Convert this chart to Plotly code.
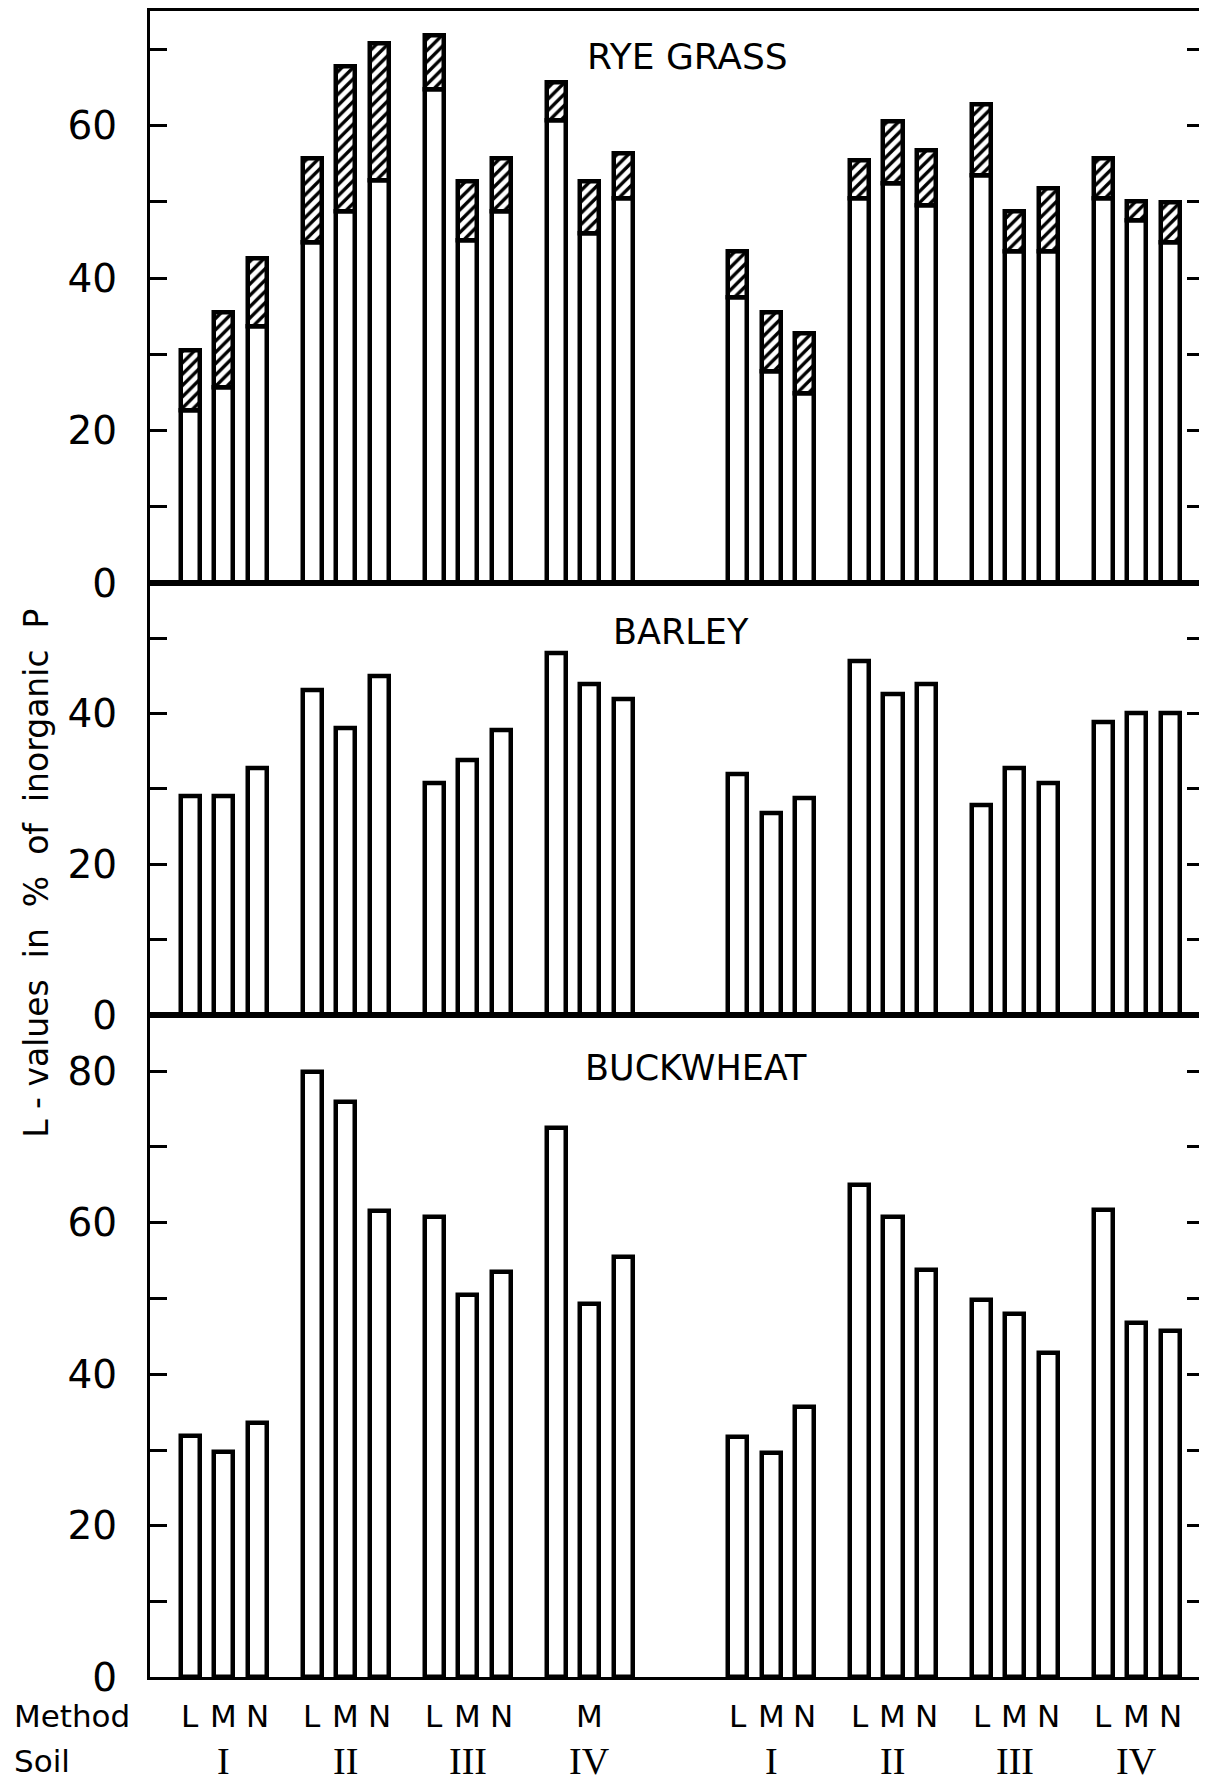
import plotly.graph_objects as go
from plotly.subplots import make_subplots

# ---------------- data ----------------
soils = ["I", "II", "III", "IV"]
methods = ["L", "M", "N"]
# method labels printed under the left half (soil IV only shows "M")
method_labels_left = [["L", "M", "N"], ["L", "M", "N"], ["L", "M", "N"], ["", "M", ""]]
method_labels_right = [["L", "M", "N"], ["L", "M", "N"], ["L", "M", "N"], ["L", "M", "N"]]

# RYE GRASS: lower (open) part and total height (hatched part = total - lower)
rye_left_lower = [22.6, 25.6, 33.7, 44.7, 48.8, 52.8, 64.7, 44.9, 48.7, 60.7, 45.9, 50.5]
rye_left_total = [30.5, 35.5, 42.6, 55.7, 67.7, 70.8, 71.8, 52.7, 55.7, 65.6, 52.7, 56.4]
rye_right_lower = [37.5, 27.7, 24.9, 50.4, 52.4, 49.5, 53.5, 43.5, 43.5, 50.4, 47.5, 44.7]
rye_right_total = [43.5, 35.5, 32.7, 55.4, 60.5, 56.7, 62.8, 48.8, 51.8, 55.7, 50.0, 49.9]
# BARLEY
barley_left = [29.1, 29.1, 32.7, 43.1, 38.1, 45.0, 30.8, 33.8, 37.8, 48.0, 43.9, 41.9]
barley_right = [31.9, 26.8, 28.8, 46.9, 42.6, 43.9, 27.9, 32.8, 30.8, 38.8, 40.1, 40.1]
# BUCKWHEAT
buck_left = [31.8, 29.7, 33.6, 79.9, 75.9, 61.5, 60.7, 50.5, 53.5, 72.5, 49.3, 55.5]
buck_right = [31.7, 29.6, 35.7, 64.9, 60.7, 53.8, 49.8, 47.9, 42.8, 61.7, 46.8, 45.7]

panel_titles = ["RYE GRASS", "BARLEY", "BUCKWHEAT"]
y_label = "L - values\u00a0 in\u00a0 %\u00a0 of\u00a0 inorganic\u00a0 P"

# ---------------- layout constants ----------------
OFF = 8                      # page body margin
VS = 1807 / 1785             # vertical compensation of the capture
W = 1207 - OFF
H = round(1785 * VS) - 2 * OFF
PLOT_L = 150                 # page x of left axis
ML = PLOT_L - OFF
GROUP_STEP = 3.65
HALF_STEP = 16.38
BAR_W = 0.57
UNIT_PX = 33.5
FIRST_BAR_PX = 190.6
X_RANGE = [(PLOT_L - FIRST_BAR_PX) / UNIT_PX, (OFF + W - FIRST_BAR_PX) / UNIT_PX]

def pos(half, s, m):
    return half * HALF_STEP + s * GROUP_STEP + m

x_left = [pos(0, s, m) for s in range(4) for m in range(3)]
x_right = [pos(1, s, m) for s in range(4) for m in range(3)]

def py(ref_y):
    return 1 - (ref_y * VS - OFF) / H

def px(page_x):
    return (page_x - OFF - ML) / (W - ML)

domains = [
    [py(583.5), py(10.5)],
    [py(1015.7), py(583.5)],
    [py(1678.4), py(1015.7)],
]
y_tops = [75.1, 57.3, 87.4]

fig = make_subplots(rows=3, cols=1, shared_xaxes=False, vertical_spacing=0)

open_marker = dict(color="white", line=dict(color="black", width=4.5))
hatch_marker = dict(color="white", line=dict(color="black", width=4.5),
                    pattern=dict(shape="/", fgcolor="black", bgcolor="white",
                                 size=8, solidity=0.42, fillmode="replace"))

# rye grass
for xs, lower, total in [(x_left, rye_left_lower, rye_left_total),
                         (x_right, rye_right_lower, rye_right_total)]:
    fig.add_trace(go.Bar(x=xs, y=lower, width=BAR_W, marker=open_marker,
                         showlegend=False, hoverinfo="skip"), row=1, col=1)
    fig.add_trace(go.Bar(x=xs, y=[t - l for t, l in zip(total, lower)], base=lower,
                         width=BAR_W, marker=hatch_marker,
                         showlegend=False, hoverinfo="skip"), row=1, col=1)
# barley
for xs, vals in [(x_left, barley_left), (x_right, barley_right)]:
    fig.add_trace(go.Bar(x=xs, y=vals, width=BAR_W, marker=open_marker,
                         showlegend=False, hoverinfo="skip"), row=2, col=1)
# buckwheat
for xs, vals in [(x_left, buck_left), (x_right, buck_right)]:
    fig.add_trace(go.Bar(x=xs, y=vals, width=BAR_W, marker=open_marker,
                         showlegend=False, hoverinfo="skip"), row=3, col=1)

FONT = "DejaVu Sans"
for i in range(3):
    top = y_tops[i]
    tv = list(range(0, int(top) + 1, 10))
    tt = [str(v) if v % 20 == 0 else "" for v in tv]
    yname = "yaxis" if i == 0 else f"yaxis{i+1}"
    xname = "xaxis" if i == 0 else f"xaxis{i+1}"
    fig.layout[yname].update(
        domain=domains[i], range=[0, top], tickvals=tv, ticktext=tt,
        ticks="inside", ticklen=17, tickwidth=3, tickcolor="black",
        showline=True, linewidth=3, linecolor="black", mirror="ticks",
        showgrid=False, zeroline=False, ticklabelstandoff=22,
        tickfont=dict(family=FONT, size=39, color="black"))
    fig.layout[xname].update(
        range=X_RANGE, showline=True, linewidth=3, linecolor="black", mirror=True,
        ticks="", showticklabels=False, showgrid=False, zeroline=False)

annotations = []
title_pos = [(605 * 1.1387, 56), (599 * 1.1387, 632), (613 * 1.1387, 1069)]
title_sizes = [36, 35, 35]
for t, (tx, ty), fs in zip(panel_titles, title_pos, title_sizes):
    annotations.append(dict(text=t, x=px(tx), y=py(ty),
                            xref="paper", yref="paper", showarrow=False,
                            xanchor="center", yanchor="middle",
                            font=dict(family=FONT, size=fs, color="black")))

annotations.append(dict(text=y_label, x=px(36), y=py(874),
                        xref="paper", yref="paper", showarrow=False, textangle=-90,
                        xanchor="center", yanchor="middle",
                        font=dict(family=FONT, size=33, color="black")))

annotations.append(dict(text="Method", x=px(12), y=py(1717),
                        xref="paper", yref="paper", showarrow=False,
                        xanchor="left", yanchor="middle",
                        font=dict(family=FONT, size=31, color="black")))
annotations.append(dict(text="Soil", x=px(12), y=py(1762),
                        xref="paper", yref="paper", showarrow=False,
                        xanchor="left", yanchor="middle",
                        font=dict(family=FONT, size=31, color="black")))

for half, labels in [(0, method_labels_left), (1, method_labels_right)]:
    for s in range(4):
        for m in range(3):
            if labels[s][m]:
                annotations.append(dict(text=labels[s][m], x=pos(half, s, m),
                                        y=py(1717), xref="x3", yref="paper",
                                        showarrow=False, xanchor="center", yanchor="middle",
                                        font=dict(family=FONT, size=31, color="black")))
        annotations.append(dict(text=soils[s], x=pos(half, s, 1),
                                y=py(1762), xref="x3", yref="paper",
                                showarrow=False, xanchor="center", yanchor="middle",
                                font=dict(family="Liberation Serif", size=38, color="black")))

fig.update_layout(
    width=W, height=H, margin=dict(l=ML, r=0, t=0, b=0),
    paper_bgcolor="white", plot_bgcolor="white",
    barmode="overlay", bargap=0, showlegend=False,
    annotations=annotations,
)

fig.write_html("out.html")
